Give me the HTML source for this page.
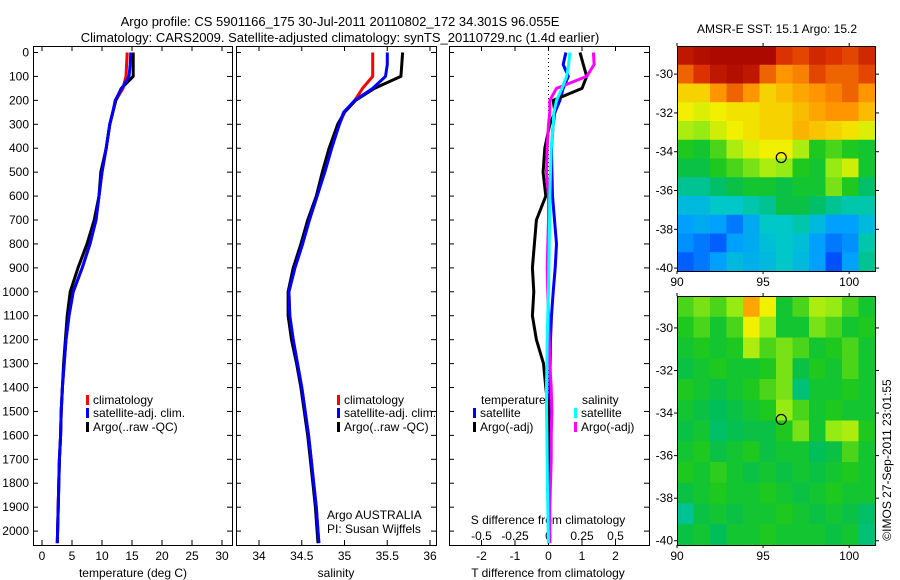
<!DOCTYPE html>
<html><head><meta charset="utf-8"><style>
html,body{margin:0;padding:0;background:#fff;}
svg{display:block;font-family:"Liberation Sans",sans-serif;}
text{font-size:12px;fill:#000;}
</style></head><body>
<svg id="fig" width="900" height="580" viewBox="0 0 900 580">
<text x="340" y="26" text-anchor="middle" style="font-size:13px">Argo profile: CS 5901166_175 30-Jul-2011 20110802_172 34.301S 96.055E</text>
<text x="340" y="42" text-anchor="middle" style="font-size:13px">Climatology: CARS2009. Satellite-adjusted climatology: synTS_20110729.nc (1.4d earlier)</text>
<text x="777" y="33" text-anchor="middle">AMSR-E SST: 15.1 Argo: 15.2</text>
<text x="777" y="317" text-anchor="middle">Altimetric SLA: 0.016 Argo: -0.016</text>
<text transform="translate(891,460) rotate(-90)" text-anchor="middle">©IMOS 27-Sep-2011 23:01:55</text>
<g id="g"></g>
</svg>
<script>
// depth levels (dbar)
const depths=[0,50,100,150,200,250,300,400,500,600,700,800,900,1000,1100,1200,1300,1400,1500,1600,1700,1800,1900,2000,2050];
// temperature (deg C)
const tempArgo=[15.2,15.2,15.2,13.2,12.3,11.8,11.3,10.7,9.8,9.5,8.7,7.5,6.0,4.7,4.2,3.9,3.6,3.4,3.2,3.1,2.9,2.8,2.7,2.6,2.55];
const tempClim=[14.2,14.1,14.0,13.5,12.3,11.8,11.3,10.7,10.0,9.5,9.0,8.0,6.7,5.2,4.5,4.0,3.7,3.4,3.2,3.1,2.9,2.8,2.7,2.6,2.55];
const tempSat=[14.8,14.7,14.5,13.3,12.2,11.8,11.3,10.7,10.0,9.5,9.0,8.0,6.7,5.2,4.5,4.0,3.7,3.4,3.2,3.1,2.9,2.8,2.7,2.6,2.55];
// salinity
const salArgo=[35.68,35.67,35.66,35.35,35.13,35.0,34.92,34.82,34.74,34.67,34.57,34.49,34.40,34.34,34.34,34.38,34.44,34.49,34.53,34.57,34.60,34.63,34.66,34.68,34.69];
const salClim=[35.33,35.33,35.33,35.21,35.12,35.0,34.94,34.84,34.76,34.68,34.59,34.51,34.42,34.35,34.36,34.40,34.45,34.50,34.54,34.58,34.61,34.64,34.67,34.69,34.70];
const salSat=[35.5,35.5,35.48,35.33,35.12,34.99,34.94,34.85,34.77,34.68,34.59,34.51,34.42,34.35,34.36,34.40,34.45,34.50,34.54,34.58,34.61,34.64,34.67,34.69,34.70];
// differences from climatology
const dTArgo=[0.94,1.04,1.14,1.0,0.14,0.19,0.04,-0.11,-0.16,-0.08,-0.36,-0.42,-0.48,-0.44,-0.48,-0.36,-0.15,-0.08,0,0,0,0,0,0,0];
const dTSat=[0.52,0.44,0.59,0.44,0.34,0.19,0.14,0.09,0.1,0.12,0.18,0.24,0.2,0.14,0.09,0.06,0.05,0.04,0.04,0.03,0.02,0.02,0.01,0.0,0.0];
const dSArgo=[0.335,0.34,0.285,0.06,0.01,0.01,0.0,-0.01,-0.015,0.0,0.0,-0.005,-0.01,-0.005,0.0,0.005,0.01,0.02,0.025,0.02,0.02,0.015,0.01,0.01,0.01];
const dSSat=[0.16,0.15,0.135,0.1,0.06,0.04,0.035,0.02,0.015,0.01,0.008,0.005,0.002,0.0,-0.005,-0.01,-0.012,-0.015,-0.015,-0.012,-0.01,-0.008,-0.005,-0.002,0];
// tick labels
const depthTicks=[0,100,200,300,400,500,600,700,800,900,1000,1100,1200,1300,1400,1500,1600,1700,1800,1900,2000];
const tempTicks=[0,5,10,15,20,25,30];
const salTicks=[34,34.5,35,35.5,36];
const dTTicks=[-2,-1,0,1,2];
const dSTicks=[-0.5,-0.25,0,0.25,0.5];
const sstLat=[-30,-32,-34,-36,-38,-40];
const slaLat=[-30,-32,-34,-36,-38,-40];
const lonTicks=[90,95,100];
// gridded map values (0..1 colour scale)
const sstGrid=[
[0.95,0.97,0.98,0.98,0.98,0.98,0.9,0.88,0.92,0.9,0.88,0.92],
[0.85,0.9,0.95,0.97,0.95,0.85,0.8,0.82,0.88,0.85,0.85,0.88],
[0.72,0.72,0.8,0.85,0.8,0.72,0.75,0.78,0.8,0.82,0.85,0.8],
[0.68,0.66,0.68,0.7,0.7,0.72,0.72,0.75,0.78,0.8,0.8,0.75],
[0.62,0.6,0.65,0.68,0.7,0.72,0.72,0.76,0.74,0.72,0.7,0.66],
[0.52,0.5,0.55,0.62,0.66,0.68,0.68,0.62,0.52,0.55,0.52,0.5],
[0.48,0.48,0.52,0.55,0.58,0.62,0.6,0.52,0.5,0.6,0.65,0.5],
[0.42,0.42,0.45,0.48,0.5,0.5,0.48,0.5,0.5,0.58,0.52,0.45],
[0.35,0.35,0.38,0.38,0.4,0.42,0.48,0.48,0.45,0.42,0.4,0.4],
[0.3,0.32,0.3,0.25,0.32,0.38,0.38,0.4,0.35,0.3,0.3,0.35],
[0.28,0.25,0.22,0.3,0.32,0.36,0.38,0.36,0.3,0.25,0.28,0.4],
[0.22,0.25,0.3,0.35,0.33,0.35,0.38,0.35,0.3,0.2,0.3,0.42]];
const slaGrid=[
[0.55,0.58,0.55,0.6,0.78,0.68,0.5,0.55,0.62,0.6,0.55,0.5],
[0.52,0.55,0.5,0.55,0.68,0.6,0.5,0.5,0.58,0.55,0.5,0.52],
[0.5,0.52,0.5,0.52,0.62,0.55,0.58,0.55,0.5,0.52,0.55,0.5],
[0.48,0.5,0.52,0.5,0.5,0.52,0.58,0.48,0.52,0.5,0.55,0.5],
[0.52,0.5,0.48,0.5,0.52,0.55,0.58,0.44,0.5,0.5,0.52,0.5],
[0.5,0.48,0.46,0.48,0.5,0.52,0.6,0.55,0.5,0.52,0.5,0.5],
[0.48,0.5,0.45,0.47,0.48,0.48,0.52,0.58,0.5,0.6,0.62,0.52],
[0.5,0.52,0.48,0.5,0.52,0.48,0.5,0.5,0.46,0.48,0.55,0.5],
[0.52,0.5,0.53,0.5,0.48,0.5,0.48,0.5,0.48,0.5,0.52,0.5],
[0.48,0.5,0.52,0.5,0.5,0.52,0.5,0.48,0.5,0.52,0.5,0.5],
[0.42,0.48,0.5,0.48,0.5,0.5,0.52,0.5,0.48,0.5,0.48,0.45],
[0.48,0.5,0.46,0.5,0.5,0.52,0.5,0.5,0.5,0.48,0.5,0.44]];
const argoLon=96.055, argoLat=-34.301;

const NS='http://www.w3.org/2000/svg';
const G=document.getElementById('g');
function mk(tag,attrs,parent){const e=document.createElementNS(NS,tag);for(const k in attrs)e.setAttribute(k,attrs[k]);(parent||G).appendChild(e);return e;}
function txt(x,y,s,anchor,parent){const t=mk('text',{x:x,y:y,'text-anchor':anchor||'start'},parent);t.textContent=s;return t;}

const yTop=46,yBot=545;
const yD=d=>52.5+d*0.2393;
function panel(x0,x1,name){
  const r=mk('rect',{x:x0+0.5,y:yTop+0.5,width:x1-x0,height:yBot-yTop,fill:'none',stroke:'#000','stroke-width':1});
  
  
}
function xTicks(sc,ticks,labelY,name){
  ticks.forEach(v=>{const x=sc(v);
    mk('line',{x1:x,x2:x,y1:yTop,y2:yTop+5,stroke:'#000'});
    mk('line',{x1:x,x2:x,y1:yBot,y2:yBot-5,stroke:'#000'});
    if(labelY){const t=txt(x,labelY,String(v),'middle');
      
      }
  });
}
function line(xs,ys,sc,color,w,name){
  const pts=xs.map((v,i)=>sc(v).toFixed(1)+','+yD(ys[i]).toFixed(1)).join(' ');
  const p=mk('polyline',{points:pts,fill:'none',stroke:color,'stroke-width':w,'stroke-linejoin':'round'});
  
  
}
function legendEntry(x,y,color,label){
  const r=mk('rect',{x:x,y:y-9,width:3,height:10,fill:color});
  
  
  const t=txt(x+7,y,label);
  
  
}

// Panel 1 temperature
const xT=v=>42+v*6;
panel(33,232,'temperature-panel');
depthTicks.forEach(d=>{const y=yD(d);
  mk('line',{x1:33,x2:38,y1:y,y2:y,stroke:'#000'});
  mk('line',{x1:232,x2:227,y1:y,y2:y,stroke:'#000'});
  mk('line',{x1:236,x2:241,y1:y,y2:y,stroke:'#000'});
  mk('line',{x1:436,x2:431,y1:y,y2:y,stroke:'#000'});
  mk('line',{x1:449,x2:454,y1:y,y2:y,stroke:'#000'});
  mk('line',{x1:649,x2:644,y1:y,y2:y,stroke:'#000'});
  const t=txt(29,y+4,String(d),'end');
  
  
});
xTicks(xT,tempTicks,560,'temperature-tick-label');
let t1=txt(133,577,'temperature (deg C)','middle');


line(tempClim,depths,xT,'#f00',3,'temp-climatology-line');
line(tempArgo,depths,xT,'#000',3,'temp-argo-line');
line(tempSat,depths,xT,'#00f',3,'temp-satellite-line');
legendEntry(86,404,'#f00','climatology');
legendEntry(86,417,'#00f','satellite-adj. clim.');
legendEntry(86,431,'#000','Argo(..raw -QC)');

// Panel 2 salinity
const xS=v=>259+(v-34)*85.5;
panel(236,436,'salinity-panel');
xTicks(xS,salTicks,560,'salinity-tick-label');
let t2=txt(336,577,'salinity','middle');


line(salClim,depths,xS,'#f00',3,'sal-climatology-line');
line(salArgo,depths,xS,'#000',3,'sal-argo-line');
line(salSat,depths,xS,'#00f',3,'sal-satellite-line');
legendEntry(337,404,'#f00','climatology');
legendEntry(337,417,'#00f','satellite-adj. clim.');
legendEntry(337,431,'#000','Argo(..raw -QC)');
let a1=txt(327,519,'Argo AUSTRALIA');
let a2=txt(327,533,'PI: Susan Wijffels');

// Panel 3 differences
const xdT=v=>548.5+v*33.5;
const xdS=v=>548.5+v*134;
panel(449,649,'difference-panel');
mk('line',{x1:548.5,x2:548.5,y1:yTop,y2:yBot,stroke:'#000','stroke-dasharray':'1,3'});
xTicks(xdT,dTTicks,560,'t-diff-tick-label');
dSTicks.forEach(v=>{const t=txt(xdS(v),540,String(v),'middle');
  
  });
let t3=txt(548,524,'S difference from climatology','middle');
let t4=txt(548,577,'T difference from climatology','middle');
line(dTSat,depths,xdT,'#00f',3,'dt-satellite-line');
line(dTArgo,depths,xdT,'#000',3,'dt-argo-line');
line(dSArgo,depths,xdS,'#f0f',3,'ds-argo-line');
line(dSSat,depths,xdS,'#0ff',3,'ds-satellite-line');
let lt=txt(481,404,'temperature');
let ls=txt(582,404,'salinity');
legendEntry(473,417,'#00f','satellite');
legendEntry(473,431,'#000','Argo(-adj)');
legendEntry(574,417,'#0ff','satellite');
legendEntry(574,431,'#f0f','Argo(-adj)');

// Maps
function jet(v){
  const stops=[[0,[0,0,140]],[0.15,[0,40,255]],[0.3,[0,160,255]],[0.38,[0,200,200]],[0.46,[0,190,90]],[0.52,[30,200,30]],[0.6,[150,235,20]],[0.68,[240,240,0]],[0.8,[255,150,0]],[0.9,[220,50,0]],[1,[160,0,0]]];
  for(let i=1;i<stops.length;i++){if(v<=stops[i][0]){const a=stops[i-1],b=stops[i];const f=(v-a[0])/(b[0]-a[0]);
    const c=a[1].map((x,k)=>Math.round(x+(b[1][k]-x)*f));return 'rgb('+c.join(',')+')';}}
  return 'rgb(160,0,0)';
}
function map(grid,x0,x1,y0,y1,latTop,latBot,latTicks,name){
  const lonL=90,lonR=101.5;
  const xs=v=>x0+(v-lonL)/(lonR-lonL)*(x1-x0);
  const ys=v=>y0+(latTop-v)/(latTop-latBot)*(y1-y0);
  const rows=grid.length,cols=grid[0].length;
  const cw=(x1-x0)/cols,ch=(y1-y0)/rows;
  grid.forEach((row,i)=>row.forEach((v,j)=>{
    const c=mk('rect',{x:(x0+j*cw).toFixed(2),y:(y0+i*ch).toFixed(2),width:(cw+0.6).toFixed(2),height:(ch+0.6).toFixed(2),fill:jet(v)});
    
    
  }));
  const r=mk('rect',{x:x0+0.5,y:y0+0.5,width:x1-x0,height:y1-y0,fill:'none',stroke:'#000'});
  
  
  latTicks.forEach(v=>{const y=ys(v);
    mk('line',{x1:x1,x2:x1+4,y1:y,y2:y,stroke:'#000'});
    mk('line',{x1:x0,x2:x0-3,y1:y,y2:y,stroke:'#000'});
    const t=txt(x0-4,y+4,String(v),'end');
    
    });
  lonTicks.forEach(v=>{const x=xs(v);
    mk('line',{x1:x,x2:x,y1:y0,y2:y0-3,stroke:'#000'});
    mk('line',{x1:x,x2:x,y1:y1,y2:y1+3,stroke:'#000'});
    const t=txt(x,y1+15,String(v),'middle');
    
    });
  const m=mk('circle',{cx:xs(argoLon),cy:ys(argoLat),r:5,fill:'none',stroke:'#000','stroke-width':1.2});
  
  
}
map(sstGrid,677,875,46,271,-28.55,-40.15,sstLat,'sst-map');
map(slaGrid,677,875,296,545,-28.5,-40.2,slaLat,'sla-map');
</script>
</body></html>
